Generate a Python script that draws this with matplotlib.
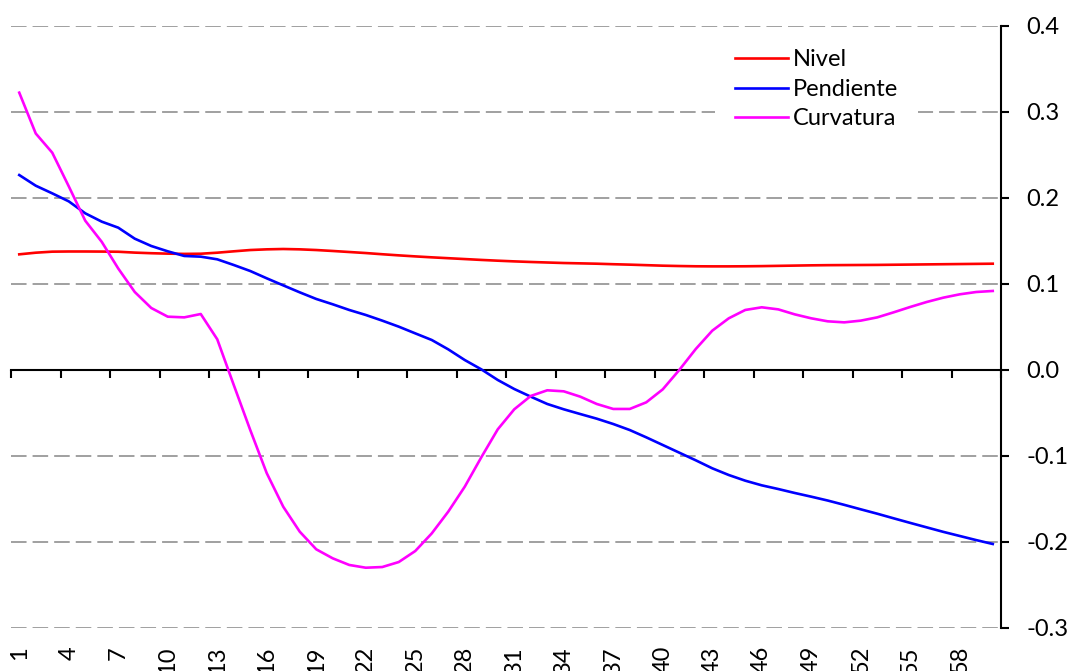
import matplotlib.pyplot as plt

# Fonts: Lato is the closest installed match to the Calibri look
plt.rcParams['font.family'] = ['Lato', 'DejaVu Sans']

# Categories 1..60 (maturities)
categories = list(range(1, 61))

# Series values
nivel = [0.1345, 0.1364, 0.1376, 0.1378, 0.1378, 0.1377, 0.1375, 0.1365, 0.1358, 0.1353,
         0.1350, 0.1352, 0.1364, 0.1380, 0.1395, 0.1403, 0.1407, 0.1403, 0.1395, 0.1384,
         0.1372, 0.1360, 0.1346, 0.1333, 0.1321, 0.1310, 0.1300, 0.1290, 0.1280, 0.1271,
         0.1263, 0.1256, 0.1250, 0.1244, 0.1240, 0.1236, 0.1230, 0.1225, 0.1219, 0.1213,
         0.1209, 0.1206, 0.1205, 0.1205, 0.1206, 0.1208, 0.1211, 0.1214, 0.1217, 0.1219,
         0.1220, 0.1221, 0.1222, 0.1224, 0.1226, 0.1228, 0.1230, 0.1232, 0.1234, 0.1236]

pendiente = [0.2267, 0.2143, 0.2054, 0.1961, 0.1822, 0.1725, 0.1655, 0.1527, 0.1442, 0.1380,
             0.1326, 0.1318, 0.1287, 0.1221, 0.1151, 0.1066, 0.0984, 0.0903, 0.0826, 0.0764,
             0.0698, 0.0640, 0.0574, 0.0504, 0.0426, 0.0349, 0.0240, 0.0116, 0.0008, -0.0116,
             -0.0221, -0.0310, -0.0395, -0.0457, -0.0512, -0.0566, -0.0628, -0.0698, -0.0783, -0.0872,
             -0.0961, -0.1050, -0.1143, -0.1221, -0.1287, -0.1341, -0.1384, -0.1430, -0.1473, -0.1518,
             -0.1568, -0.1620, -0.1671, -0.1725, -0.1778, -0.1830, -0.1882, -0.1930, -0.1978, -0.2023]

curvatura = [0.3225, 0.2750, 0.2527, 0.2136, 0.1736, 0.1490, 0.1180, 0.0907, 0.0721, 0.0620,
             0.0612, 0.0651, 0.0357, -0.0174, -0.0698, -0.1200, -0.1590, -0.1880, -0.2085, -0.2190,
             -0.2267, -0.2299, -0.2291, -0.2233, -0.2105, -0.1900, -0.1647, -0.1357, -0.1016, -0.0690,
             -0.0457, -0.0302, -0.0236, -0.0248, -0.0310, -0.0395, -0.0453, -0.0453, -0.0376, -0.0225,
             0.0000, 0.0244, 0.0457, 0.0601, 0.0698, 0.0729, 0.0705, 0.0647, 0.0601, 0.0566,
             0.0554, 0.0574, 0.0612, 0.0671, 0.0733, 0.0791, 0.0841, 0.0880, 0.0907, 0.0919]

# Axis labels
x_label_pos = list(range(1, 61, 3))
x_labels = [str(v) for v in x_label_pos]
y_ticks = [-0.3, -0.2, -0.1, 0.0, 0.1, 0.2, 0.3, 0.4]
y_labels = ['-0.3', '-0.2', '-0.1', '0.0', '0.1', '0.2', '0.3', '0.4']

W, H = 1070, 671
fig = plt.figure(figsize=(W / 100, H / 100), dpi=100)
ax = fig.add_axes([11 / W, 1 - 628 / H, 990 / W, 602 / H])

ax.plot(categories, nivel, color='#FF0000', lw=1.9, label='Nivel')
ax.plot(categories, pendiente, color='#0000FF', lw=1.9, label='Pendiente')
ax.plot(categories, curvatura, color='#FF00FF', lw=1.9, label='Curvatura')

ax.set_xlim(0.5, 60.5)
ax.set_ylim(-0.3, 0.4)

# Value axis on the right
for side in ['left', 'top', 'bottom']:
    ax.spines[side].set_visible(False)
ax.spines['right'].set_linewidth(1.5)
ax.yaxis.tick_right()
ax.set_yticks(y_ticks, y_labels)
ax.tick_params(axis='y', direction='out', length=6, width=1.5, labelsize=17, pad=12)

# Dashed horizontal gridlines (none at zero, the category axis sits there)
ax.set_axisbelow(True)
ax.grid(axis='y', color='#A0A0A0', lw=1.4, linestyle=(0, (8, 3.1)))
ax.yaxis.get_gridlines()[y_ticks.index(0.0)].set_visible(False)

# Category labels at the bottom, rotated (the figure edge cuts them, as in the original)
ax.set_xticks(x_label_pos, x_labels)
ax.tick_params(axis='x', length=0, labelsize=17, pad=13, labelrotation=90)

# Category axis line at zero, with ticks between every 3 categories
sec = ax.secondary_xaxis(0.3 / 0.7)
sec.set_xticks([0.5 + 3 * k for k in range(21)], [''] * 21)
sec.spines['bottom'].set_linewidth(1.5)
sec.tick_params(axis='x', direction='out', length=5.5, width=1.5)

leg = ax.legend(loc='upper left', bbox_to_anchor=(715 / W, 1 - 29 / H),
                bbox_transform=fig.transFigure, frameon=True, fancybox=False,
                edgecolor='none', facecolor='white', framealpha=1, fontsize=17,
                handlelength=2.23, handletextpad=0.21, labelspacing=0.36,
                borderpad=0.86, borderaxespad=0)

fig.savefig('out.png', dpi=100)
